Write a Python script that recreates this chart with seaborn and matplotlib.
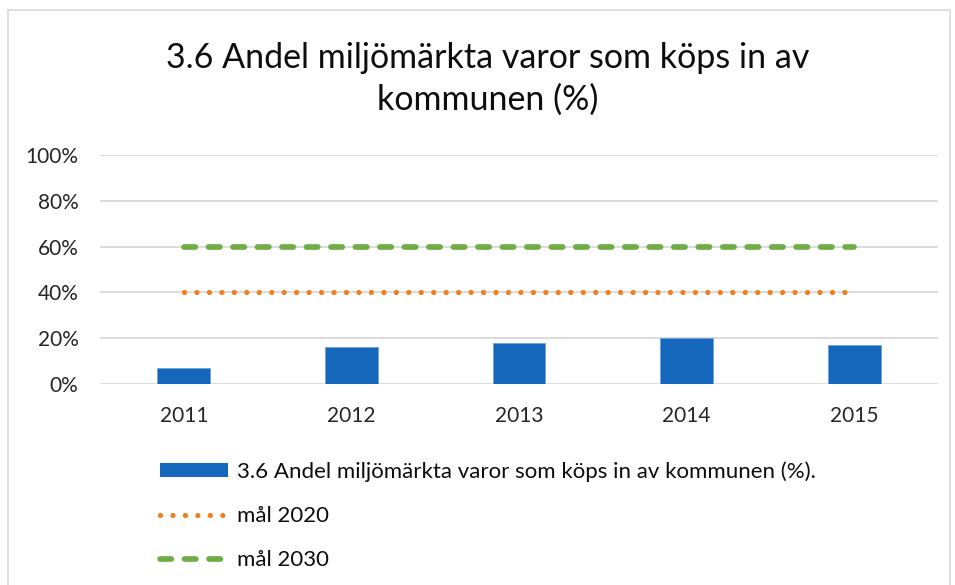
import numpy as np
import matplotlib
matplotlib.use('Agg')
import matplotlib.pyplot as plt
import seaborn as sns
from matplotlib.patches import Rectangle
from matplotlib.lines import Line2D
from matplotlib.ticker import PercentFormatter

sns.set_theme(style='white')
plt.rcParams['font.family'] = ['Lato', 'DejaVu Sans']

# data
years = ['2011', '2012', '2013', '2014', '2015']
andel = [0.07, 0.16, 0.18, 0.20, 0.17]
mal_2020 = [0.40, 0.40, 0.40, 0.40, 0.40]
mal_2030 = [0.60, 0.60, 0.60, 0.60, 0.60]
y_ticks = [0, 0.2, 0.4, 0.6, 0.8, 1.0]

blue = '#1467BA'
orange = '#F07F1E'
green = '#70AD47'
grid = '#D9D9D9'

fig = plt.figure(figsize=(9.55, 5.85), dpi=100)
ax = fig.add_axes([100/955, 1-384/585, 838/955, 229/585])

sns.barplot(x=years, y=andel, color=blue, width=0.316, saturation=1,
            edgecolor='#6FA3DA', linewidth=0.6, ax=ax, zorder=3)
xs = np.arange(len(years))
dot_ls = (0, (0.001, 2.36))
dash_ls = (0, (2.0, 2.3))
ax.plot(xs, mal_2020, color=orange, lw=3.8, linestyle=dot_ls,
        dash_capstyle='round', zorder=4)
ax.plot(xs, mal_2030, color=green, lw=4.1, linestyle=dash_ls,
        dash_capstyle='round', zorder=4)

ax.set_xlim(-0.5, len(years)-0.5)
ax.set_ylim(0, 1.0)
ax.set_yticks(y_ticks)
ax.yaxis.set_major_formatter(PercentFormatter(1.0, decimals=0))
for y in y_ticks:
    ax.axhline(y, color=grid, lw=1.3, zorder=1)
for s in ax.spines.values():
    s.set_visible(False)
ax.tick_params(axis='both', length=0, labelsize=15, colors='#262626')
ax.tick_params(axis='y', pad=15.5)
ax.tick_params(axis='x', pad=16)
ax.set_xlabel('')
ax.set_ylabel('')

fig.text(488/955, 1-79/585, '3.6 Andel miljömärkta varor som köps in av\nkommunen (%)',
         ha='center', va='center', fontsize=24.5, color='#0d0d0d', linespacing=1.36)

handles = [
    Rectangle((0, 0), 1, 1, facecolor=blue, edgecolor='none'),
    Line2D([0], [0], color=orange, lw=3.8, linestyle=dot_ls, dash_capstyle='round'),
    Line2D([0], [0], color=green, lw=4.1, linestyle=dash_ls, dash_capstyle='round'),
]
labels = ['3.6 Andel miljömärkta varor som köps in av kommunen (%).',
          'mål 2020', 'mål 2030']
leg = fig.legend(handles, labels, loc='upper left', bbox_to_anchor=(160/955, 1-461/585),
                 frameon=False, fontsize=16, handlelength=3.05, handleheight=0.6,
                 handletextpad=0.4, labelspacing=1.1, borderaxespad=0, borderpad=0)
for t in leg.get_texts():
    t.set_color('#0d0d0d')

fig.patches.append(Rectangle((8/955, -0.05), 942/955, 1.05-10/585, transform=fig.transFigure,
                             fill=False, edgecolor='#D9D9D9', lw=1.2, figure=fig))

fig.savefig('out.png', dpi=100)
